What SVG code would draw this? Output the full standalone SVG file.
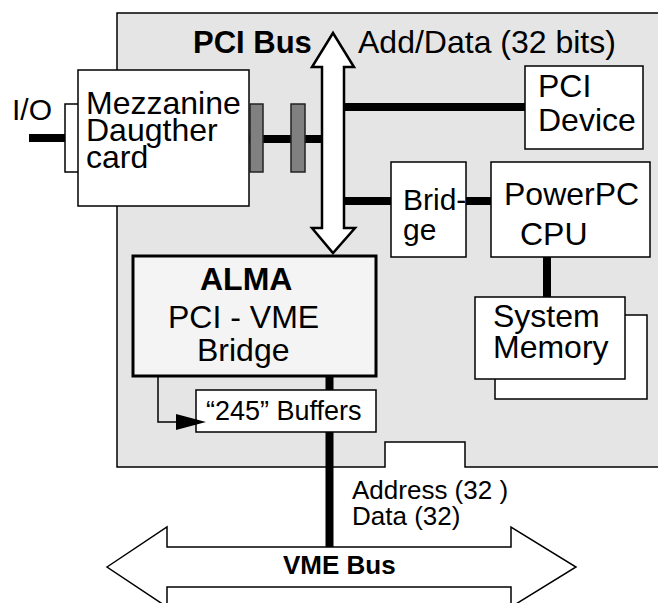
<svg xmlns="http://www.w3.org/2000/svg" width="658" height="603" viewBox="0 0 658 603">
  <style>
    .box { fill: #ffffff; stroke: #000000; stroke-width: 1.5; }
    .bus { fill: #ffffff; stroke: #000000; stroke-width: 2.5; stroke-linejoin: miter; }
    .wire { stroke: #000000; stroke-width: 8; fill: none; }
    .thin { stroke: #000000; stroke-width: 1.5; fill: none; }
    .plug { fill: #808080; stroke: #222222; stroke-width: 1.5; }
    text { font-family: "Liberation Sans", Arial, Helvetica, sans-serif; font-size: 32px; fill: #000000; }
    .b { font-weight: bold; }
    .m { font-size: 30px; }
    .s { font-size: 26px; }
  </style>

  <!-- CPU board outline with connector notch -->
  <g id="board">
    <path d="M117,13 H662 V467 H465 V442 H385 V467 H117 Z" fill="#e5e5e5" stroke="#000000" stroke-width="1.5"/>
  </g>

  <!-- bus wiring -->
  <g id="connectors">
    <line class="wire" x1="29" y1="138" x2="65" y2="138"/>
    <line class="wire" x1="249" y1="139" x2="323" y2="139"/>
    <line class="wire" x1="343" y1="107" x2="526" y2="107"/>
    <line class="wire" x1="343" y1="201" x2="392" y2="201"/>
    <line class="wire" x1="466" y1="201" x2="492" y2="201"/>
    <line class="wire" x1="547" y1="257" x2="547" y2="298"/>
    <line class="wire" x1="329.5" y1="374" x2="329.5" y2="548"/>
    <polyline class="thin" points="158,376 158,422 180,422"/>
  </g>

  <!-- I/O bracket and mezzanine card -->
  <g id="mezzanine">
    <path class="thin" d="M78,104 H65 V172 H78"/>
    <rect class="box" x="78" y="70" width="171" height="136"/>
    <text x="86" y="114">Mezzanine</text>
    <text x="86" y="141">Daugther</text>
    <text x="86" y="168">card</text>
  </g>
  <g id="io-label">
    <text x="12" y="120" class="m">I/O</text>
  </g>
  <g id="pmc-connectors">
    <rect class="plug" x="250" y="104" width="13" height="68"/>
    <rect class="plug" x="291" y="104" width="14" height="68"/>
  </g>

  <!-- PCI bus -->
  <g id="pci-bus">
    <path class="bus" d="M333,33 L354,67 H344 V228 H355 L333,253 L312,228 H322 V67 H312 Z"/>
    <text class="b" x="193" y="53" style="font-size:31px">PCI Bus</text>
    <text x="358" y="53">Add/Data (32 bits)</text>
  </g>

  <g id="pci-device">
    <rect class="box" x="525" y="66" width="118" height="83"/>
    <text x="538" y="97">PCI</text>
    <text x="538" y="131">Device</text>
  </g>

  <g id="host-bridge">
    <rect class="box" x="391" y="162" width="75" height="95"/>
    <text class="m" x="403" y="210">Brid-</text>
    <text class="m" x="403" y="240">ge</text>
  </g>

  <g id="cpu">
    <rect class="box" x="491" y="162" width="159" height="95"/>
    <text x="504" y="205">PowerPC</text>
    <text x="520" y="245">CPU</text>
  </g>

  <g id="memory">
    <rect class="box" x="495" y="315" width="152" height="84"/>
    <rect class="box" x="475" y="297" width="150" height="82"/>
    <text x="493" y="327">System</text>
    <text x="493" y="358">Memory</text>
  </g>

  <g id="alma">
    <rect x="133" y="256" width="243" height="120" fill="#f4f4f4" stroke="#000000" stroke-width="3"/>
    <text class="b" x="200" y="290">ALMA</text>
    <text x="168" y="328">PCI - VME</text>
    <text x="197" y="361">Bridge</text>
  </g>

  <g id="buffers">
    <rect class="box" x="196" y="390" width="180" height="42"/>
    <polygon points="206,422 176,414 176,430" fill="#000000"/>
    <text x="206" y="420" style="font-size:27px">“245” Buffers</text>
  </g>

  <!-- VME backplane bus -->
  <g id="vme-bus">
    <path class="box" d="M107,567 L167,527 V547 H511 V527 L576,567 L511,607 V587 H167 V607 Z"/>
    <text class="b s" x="283" y="574">VME Bus</text>
    <text class="s" x="352" y="499">Address (32 )</text>
    <text class="s" x="352" y="525">Data (32)</text>
  </g>
</svg>
